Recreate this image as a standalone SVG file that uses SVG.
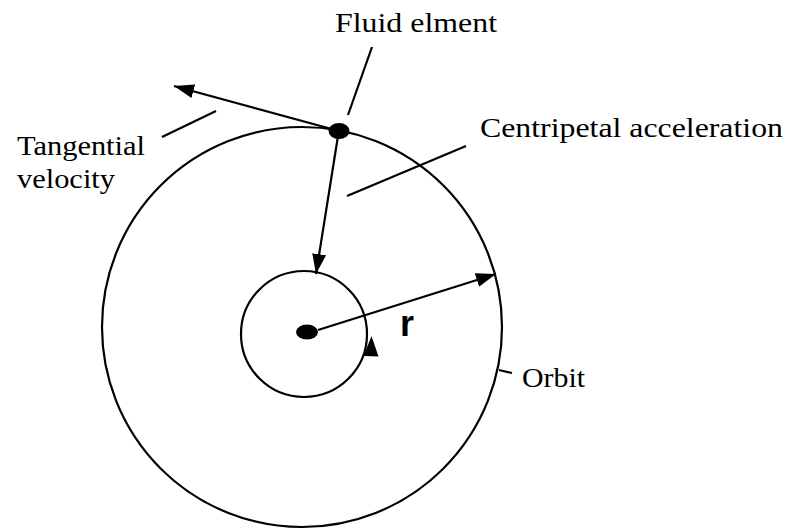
<svg xmlns="http://www.w3.org/2000/svg" width="785" height="529" viewBox="0 0 785 529">
<style>
.ln{stroke:#000;stroke-width:2.2;fill:none}
.lbl{font-family:"Liberation Serif","Times New Roman",serif;font-size:28px;fill:#000}
.dot{fill:#000}
</style>
<defs>
<marker id="ah" markerUnits="userSpaceOnUse" markerWidth="22" markerHeight="16" refX="20" refY="8" orient="auto">
<path d="M0,1 L20,8 L0,15 Z" fill="#000"/>
</marker>
</defs>
<rect width="785" height="529" fill="#fff"/>
<g id="orbit">
<circle class="ln" cx="302" cy="327" r="200"/>
</g>
<g id="inner-circle">
<circle class="ln" cx="304" cy="334" r="63"/>
<polygon points="371.5,336 363.5,356 378.5,356.5" fill="#000"/>
</g>
<g id="center">
<ellipse class="dot" cx="307" cy="332" rx="11" ry="7.5"/>
</g>
<g id="fluid-element">
<ellipse class="dot" cx="339" cy="131" rx="10.5" ry="8"/>
</g>
<g id="connectors">
<line class="ln" x1="339" y1="131" x2="174" y2="86" marker-end="url(#ah)"/>
<line class="ln" x1="338" y1="136" x2="316" y2="274" marker-end="url(#ah)"/>
<line class="ln" x1="318" y1="330" x2="496" y2="274" marker-end="url(#ah)"/>
<line class="ln" x1="372" y1="47" x2="348" y2="115"/>
<line class="ln" x1="162" y1="137" x2="216" y2="111"/>
<line class="ln" x1="347" y1="196" x2="466" y2="146"/>
<line class="ln" x1="499" y1="370" x2="512" y2="373"/>
</g>
<g id="labels">
<text class="lbl" x="335" y="32" textLength="162" lengthAdjust="spacingAndGlyphs">Fluid elment</text>
<text class="lbl" x="480" y="137" textLength="303" lengthAdjust="spacingAndGlyphs">Centripetal acceleration</text>
<text class="lbl" x="17" y="155" textLength="128" lengthAdjust="spacingAndGlyphs">Tangential</text>
<text class="lbl" x="17" y="188" textLength="98" lengthAdjust="spacingAndGlyphs">velocity</text>
<text class="lbl" x="522" y="387" textLength="63" lengthAdjust="spacingAndGlyphs">Orbit</text>
<text x="400" y="336" font-family="Liberation Sans,Arial,sans-serif" font-size="36" font-weight="bold">r</text>
</g>
</svg>
